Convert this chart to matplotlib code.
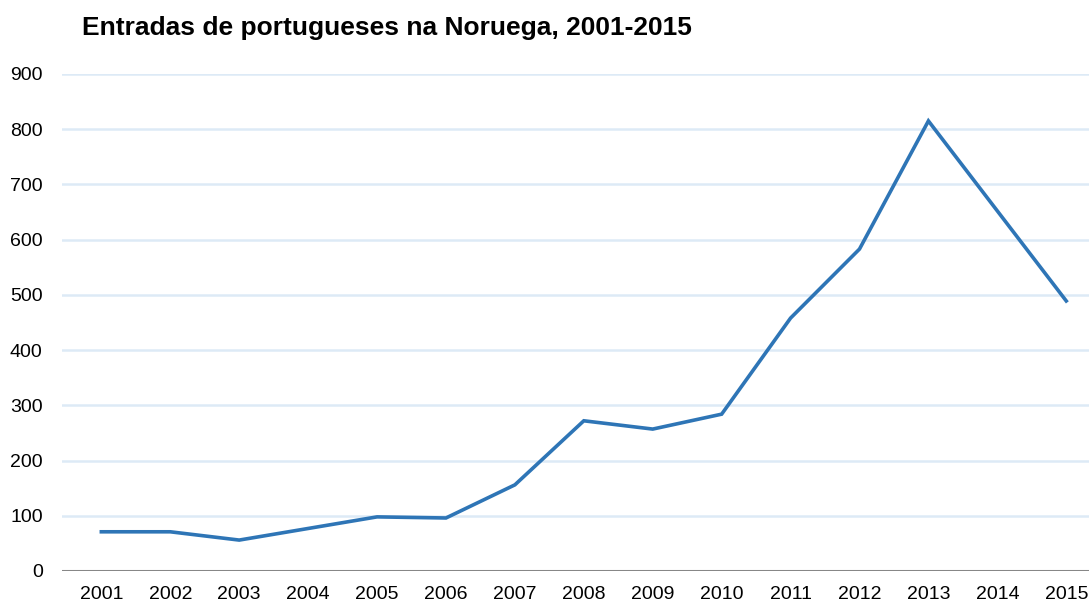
import matplotlib
matplotlib.use("Agg")
import matplotlib.pyplot as plt

plt.rcParams['font.family'] = ['Liberation Sans', 'DejaVu Sans']

# data
years = [2001, 2002, 2003, 2004, 2005, 2006, 2007, 2008,
         2009, 2010, 2011, 2012, 2013, 2014, 2015]
entradas = [71, 71, 56, 77, 98, 96, 156, 272,
            257, 284, 458, 583, 815, 652, 489]
yticks = [0, 100, 200, 300, 400, 500, 600, 700, 800, 900]

fig = plt.figure(figsize=(10.89, 6.05), dpi=100)
ax = fig.add_axes([0.057, 0.0562, 0.943, 0.8215])

ax.plot(years, entradas, color='#2E75B6', linewidth=2.6,
        solid_joinstyle='miter', zorder=3)

ax.set_xlim(2000.43, 2015.33)
ax.set_ylim(0, 900)
ax.set_yticks(yticks)
ax.set_xticks(years)
ax.set_xticklabels([str(y) for y in years])

for y in yticks[1:]:
    ax.axhline(y, color='#DDEAF6', linewidth=1.8, zorder=1)
ax.axhline(0, color='#878787', linewidth=2.2, zorder=2)

for s in ax.spines.values():
    s.set_visible(False)
ax.tick_params(length=0, labelsize=14, colors='black')
ax.tick_params(axis='x', pad=11)
ax.tick_params(axis='y', pad=14)

fig.text(0.0753, 0.954, 'Entradas de portugueses na Noruega, 2001-2015',
         fontsize=19, fontweight='bold', va='center', ha='left')

fig.savefig('out.png', dpi=100)
